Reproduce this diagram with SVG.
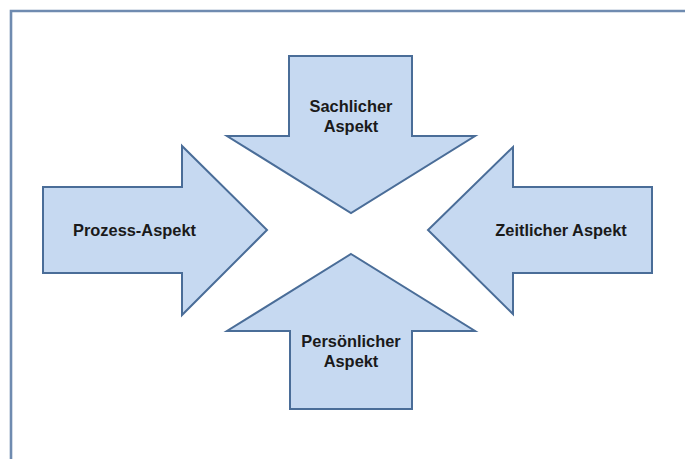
<svg xmlns="http://www.w3.org/2000/svg" width="685" height="459" viewBox="0 0 685 459">
<style>
.arrow{fill:#c6d9f1;stroke:#4a6d98;stroke-width:2;stroke-linejoin:miter}
.lbl{font-family:"Liberation Sans",Arial,sans-serif;font-weight:bold;font-size:16.4px;fill:#1a1a1a;text-anchor:middle}
</style>
<rect width="685" height="459" fill="#ffffff"/>
<path d="M11 459 V11 H685" fill="none" stroke="#6f8bb0" stroke-width="2.6"/>
<g id="sachlicher">
<polygon class="arrow" points="289,56 412,56 412,136 475,136 351,213 227,136 289,136"/>
<text class="lbl" x="351" y="112">Sachlicher</text>
<text class="lbl" x="351" y="132">Aspekt</text>
</g>
<g id="prozess">
<polygon class="arrow" points="43,187 182,187 182,146 267,230 182,315 182,273 43,273"/>
<text class="lbl" x="134.5" y="236">Prozess-Aspekt</text>
</g>
<g id="zeitlicher">
<polygon class="arrow" points="652,187 513,187 513,147 428,230 513,314 513,273 652,273"/>
<text class="lbl" x="561" y="236">Zeitlicher Aspekt</text>
</g>
<g id="persoenlicher">
<polygon class="arrow" points="351,254 475,331 412,331 412,409 290,409 290,331 227,331"/>
<text class="lbl" x="351" y="347">Persönlicher</text>
<text class="lbl" x="351" y="367">Aspekt</text>
</g>
<g id="connectors"></g>
</svg>
